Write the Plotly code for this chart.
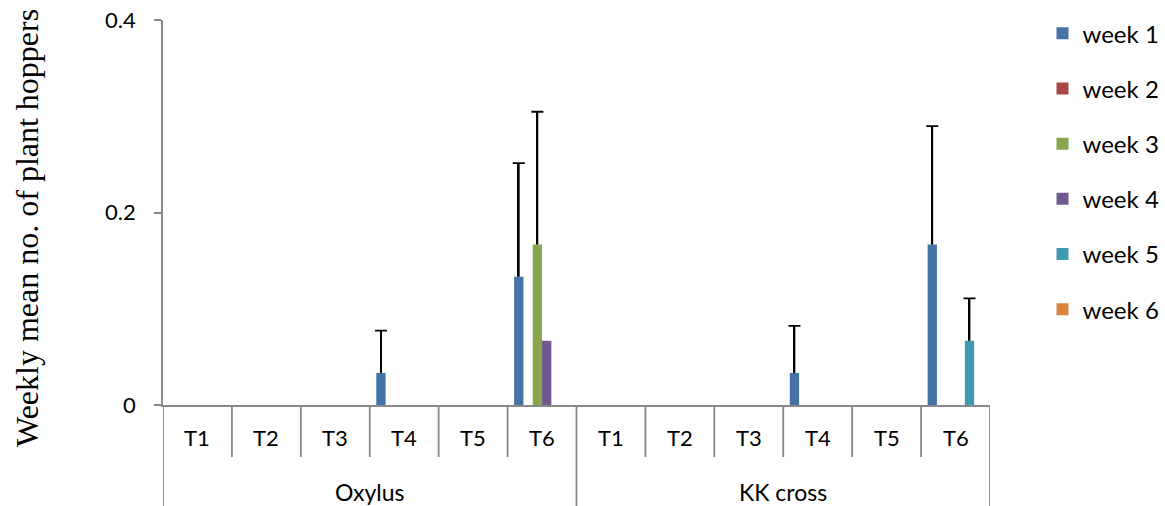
import plotly.graph_objects as go

groups = ["Oxylus"] * 6 + ["KK cross"] * 6
treatments = ["T1", "T2", "T3", "T4", "T5", "T6"] * 2
weeks = ["week 1", "week 2", "week 3", "week 4", "week 5", "week 6"]
colors = ["#4572A7", "#AA4643", "#89A54E", "#71588F", "#4198AF", "#DB843D"]

week1 = [0, 0, 0, 0.0333, 0, 0.1333, 0, 0, 0, 0.0333, 0, 0.1667]
week2 = [0] * 12
week3 = [0, 0, 0, 0, 0, 0.1667, 0, 0, 0, 0, 0, 0]
week4 = [0, 0, 0, 0, 0, 0.0667, 0, 0, 0, 0, 0, 0]
week5 = [0, 0, 0, 0, 0, 0, 0, 0, 0, 0, 0, 0.0667]
week6 = [0] * 12

# upper error (standard error) per bar; None = no error bar drawn
err1 = [None, None, None, 0.044, None, 0.118, None, None, None, 0.049, None, 0.123]
err2 = [None] * 12
err3 = [None, None, None, None, None, 0.138, None, None, None, None, None, None]
err4 = [None] * 12
err5 = [None, None, None, None, None, None, None, None, None, None, None, 0.044]
err6 = [None] * 12

values = [week1, week2, week3, week4, week5, week6]
errors = [err1, err2, err3, err4, err5, err6]

xpos = list(range(len(treatments)))
GRAY = "#898989"
FONT = "Lato"

fig = go.Figure()
for k, (name, col, v, e) in enumerate(zip(weeks, colors, values, errors)):
    fig.add_trace(go.Bar(
        x=xpos, y=v, name=name, marker=dict(color=col, line=dict(width=0)),
        legendgroup=name, offsetgroup=str(k),
    ))
    if any(ev is not None for ev in e):
        # plus-only error bar: thin black stem from bar top, cap at its end
        fig.add_trace(go.Bar(
            x=xpos, y=e, base=v, width=0.026, offsetgroup=str(k),
            marker=dict(color="black", line=dict(width=0)),
            showlegend=False, legendgroup=name, hoverinfo="skip",
            error_y=dict(type="data", symmetric=False,
                         array=[0 if ev is not None else None for ev in e],
                         arrayminus=[0 if ev is not None else None for ev in e],
                         color="black", thickness=1.8, width=6),
        ))

shapes = []
for i in range(len(treatments) + 1):
    b = i - 0.5
    outer = (i % 6 == 0)
    shapes.append(dict(type="line", xref="x", yref="paper", x0=b, x1=b,
                       y0=0, y1=(-101 / 385 if outer else -52 / 385),
                       line=dict(color=GRAY, width=1.8)))

annotations = []
for i, t in enumerate(treatments):
    annotations.append(dict(x=i, y=-33 / 385, xref="x", yref="paper", text=t,
                            showarrow=False, xanchor="center", yanchor="middle",
                            font=dict(family=FONT, size=22, color="black")))
for gname in ["Oxylus", "KK cross"]:
    idx = [i for i, g in enumerate(groups) if g == gname]
    annotations.append(dict(x=(idx[0] + idx[-1]) / 2, y=-87 / 385, xref="x", yref="paper",
                            text=gname, showarrow=False, xanchor="center", yanchor="middle",
                            font=dict(family=FONT, size=23, color="black")))
annotations.append(dict(x=-136 / 827, y=(405 - 228) / 385, xref="paper", yref="paper",
                        text="Weekly mean no. of plant hoppers", textangle=-90,
                        showarrow=False, xanchor="center", yanchor="middle",
                        font=dict(family="Liberation Serif", size=32, color="black")))

fig.update_layout(
    width=1165, height=506, autosize=False,
    margin=dict(l=163, r=175, t=20, b=101, autoexpand=False),
    paper_bgcolor="white", plot_bgcolor="white",
    barmode="group", bargap=0.19, bargroupgap=0,
    showlegend=True,
    legend=dict(x=1.0635, y=1.023, xanchor="left", yanchor="top",
                font=dict(family=FONT, size=24, color="black"),
                tracegroupgap=21, traceorder="grouped", maxheight=480,
                bgcolor="rgba(0,0,0,0)"),
    xaxis=dict(range=[-0.5, len(treatments) - 0.5], showticklabels=False,
               showline=True, linecolor=GRAY, linewidth=1.8, ticks="",
               showgrid=False, zeroline=False, automargin=False),
    yaxis=dict(range=[0, 0.4], tickvals=[0, 0.2, 0.4], ticktext=["0", "0.2", "0.4"],
               showline=True, linecolor=GRAY, linewidth=1.8, ticks="outside",
               ticklen=7, tickcolor=GRAY, tickwidth=1.8, ticklabelstandoff=14,
               tickfont=dict(family=FONT, size=22, color="black"),
               showgrid=False, zeroline=False, automargin=False),
    shapes=shapes, annotations=annotations,
)

fig.write_html("out.html")
